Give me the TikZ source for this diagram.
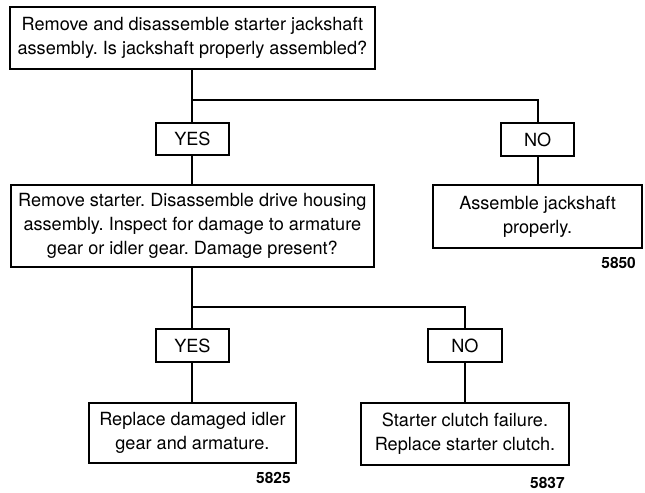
\documentclass[tikz,border=0pt]{standalone}
\usepackage{fontspec}
\setmainfont{TeX Gyre Heros}
\frenchspacing
\usetikzlibrary{positioning}

\begin{document}
\begin{tikzpicture}[
    box/.style={draw, line width=1.3pt, align=center, inner sep=0pt, font=\fontsize{12.9}{17}\selectfont},
    ans/.style={box, minimum width=1.83cm, minimum height=0.82cm},
    fignum/.style={font=\fontsize{11}{12}\selectfont\bfseries, anchor=east},
    link/.style={line width=1.3pt},
]
\useasboundingbox (0,0) rectangle (16.125,-12.325);
% ----- first check
\node[box, minimum width=9.125cm, minimum height=1.55cm] (check1) at (4.81,-0.95)
    {Remove and disassemble starter jackshaft\\assembly. Is jackshaft properly assembled?};
\coordinate (split1) at (4.81,-2.5);
\node[ans] (yes1) at (4.81,-3.475) {YES};
\node[ans] (no1) at (13.44,-3.49) {NO};
\node[box, minimum width=5.225cm, minimum height=1.575cm] (fixshaft) at (13.44,-5.41)
    {Assemble jackshaft\\properly.};
\node[fignum] (num5850) at (16.02,-6.575) {5850};
% ----- second check
\node[box, minimum width=9.075cm, minimum height=2.05cm] (check2) at (4.81,-5.65)
    {Remove starter. Disassemble drive housing\\assembly. Inspect for damage to armature\\gear or idler gear. Damage present?};
\coordinate (split2) at (4.81,-7.675);
\node[ans] (yes2) at (4.81,-8.6375) {YES};
\node[ans, minimum width=1.85cm] (no2) at (11.625,-8.6375) {NO};
\node[box, minimum width=5.175cm, minimum height=1.5cm] (fixgear) at (4.81,-10.825)
    {Replace damaged idler\\gear and armature.};
\node[fignum] (num5825) at (7.39,-11.95) {5825};
\node[box, minimum width=5.2cm, minimum height=1.55cm] (fixclutch) at (11.625,-10.85)
    {Starter clutch failure.\\Replace starter clutch.};
\node[fignum] (num5837) at (14.24,-12.075) {5837};
% ----- connectors
\draw[link] (check1) -- (yes1);
\draw[link] (split1) -| (no1);
\draw[link] (yes1) -- (check2);
\draw[link] (no1) -- (fixshaft);
\draw[link] (check2) -- (yes2);
\draw[link] (split2) -| (no2);
\draw[link] (yes2) -- (fixgear);
\draw[link] (no2) -- (fixclutch);
\end{tikzpicture}
\end{document}
